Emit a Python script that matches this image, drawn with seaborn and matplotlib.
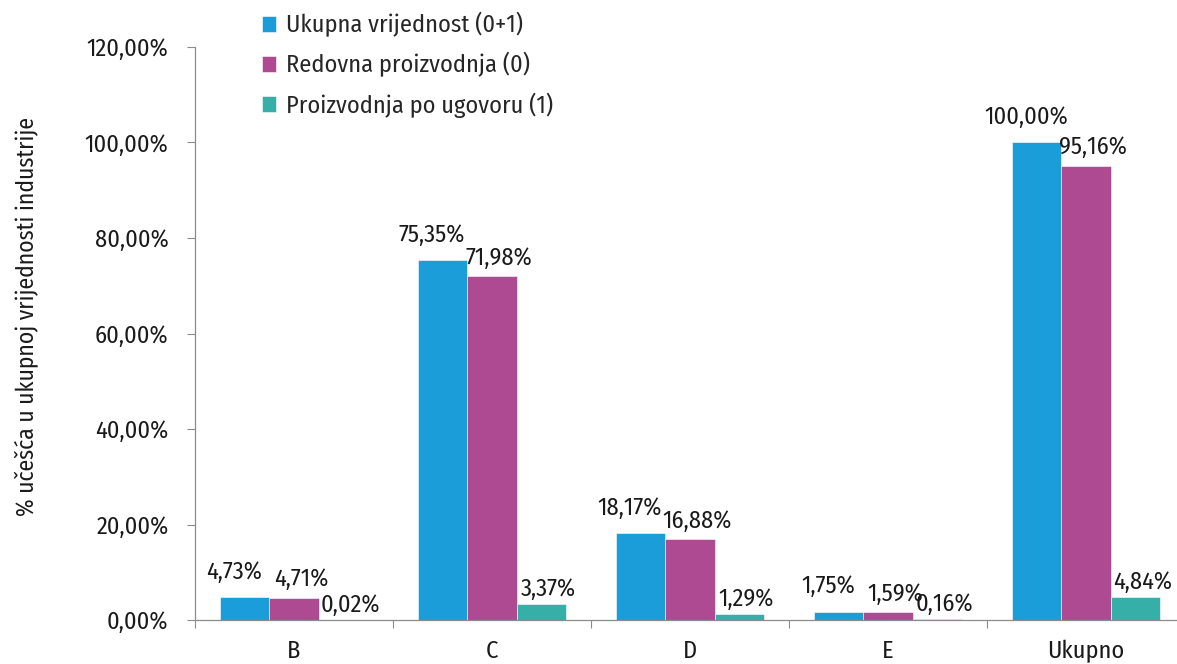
import matplotlib
matplotlib.use("Agg")
import matplotlib.pyplot as plt
import matplotlib.ticker as mticker
import seaborn as sns
import pandas as pd

# data
categories = ["B", "C", "D", "E", "Ukupno"]
series_names = ["Ukupna vrijednost (0+1)", "Redovna proizvodnja (0)", "Proizvodnja po ugovoru (1)"]
ukupna = [4.73, 75.35, 18.17, 1.75, 100.00]
redovna = [4.71, 71.98, 16.88, 1.59, 95.16]
ugovor = [0.02, 3.37, 1.29, 0.16, 4.84]
y_ticks = [0, 20, 40, 60, 80, 100, 120]
colors = ["#1B9DD9", "#AD4A91", "#35AFA8"]

rows = []
for name, vals in zip(series_names, [ukupna, redovna, ugovor]):
    for cat, v in zip(categories, vals):
        rows.append({"kategorija": cat, "serija": name, "vrijednost": v})
df = pd.DataFrame(rows)

sns.set_theme(style="white")
plt.rcParams["font.family"] = ["Fira Sans Condensed", "DejaVu Sans"]
text_color = "#1a1a1a"

fig = plt.figure(figsize=(11.77, 6.64), dpi=100)
ax = fig.add_axes([195 / 1177, 44 / 664, 990 / 1177, 573 / 664])

sns.barplot(data=df, x="kategorija", y="vrijednost", hue="serija",
            palette=colors, saturation=1, width=0.745, gap=0, ax=ax,
            edgecolor="white", linewidth=0.4, errorbar=None)

# data labels above bars, nudged like the original (pixels)
nudges = [(-11, 25), (7, 18), (7, 15)]
for cont, (dx, dy) in zip(ax.containers, nudges):
    for bar in cont:
        h = bar.get_height()
        lbl = f"{h:.2f}%".replace(".", ",")
        ax.annotate(lbl, (bar.get_x() + bar.get_width() / 2, h),
                    xytext=(dx * 0.72, dy * 0.72), textcoords="offset points",
                    ha="center", va="center", fontsize=17.5, color=text_color)

ax.set_ylim(0, 120)
ax.set_xlim(-0.5, len(categories) - 0.5)
ax.set_yticks(y_ticks)
ax.yaxis.set_major_formatter(mticker.FuncFormatter(lambda v, p: f"{v:.2f}%".replace(".", ",")))
ax.set_xticks(range(len(categories)))
ax.set_xticklabels(categories)
ax.set_xticks([i - 0.5 for i in range(len(categories) + 1)], minor=True)

ax.tick_params(axis="y", which="major", left=True, length=6, width=0.8, color="#8c8c8c",
               pad=13, labelsize=17.5, labelcolor=text_color)
ax.tick_params(axis="x", which="major", bottom=False, length=0, pad=14,
               labelsize=17.5, labelcolor=text_color)
ax.tick_params(axis="x", which="minor", bottom=True, length=6, width=0.8, color="#8c8c8c")

for side in ["top", "right"]:
    ax.spines[side].set_visible(False)
for side in ["left", "bottom"]:
    ax.spines[side].set_color("#8c8c8c")
    ax.spines[side].set_linewidth(0.9)

ax.set_xlabel("")
ax.set_ylabel("% učešća u ukupnoj vrijednosti industrije", fontsize=17, color=text_color)
ax.yaxis.set_label_coords(-0.158, 0.53)

handles, labels = ax.get_legend_handles_labels()
ax.legend(handles, labels, loc="upper left", bbox_to_anchor=(57 / 990, 1.078),
          frameon=False, fontsize=17.5, handlelength=0.6, handleheight=0.6,
          handletextpad=0.4, labelspacing=0.62, borderaxespad=0)

fig.savefig("out.png", dpi=100)
